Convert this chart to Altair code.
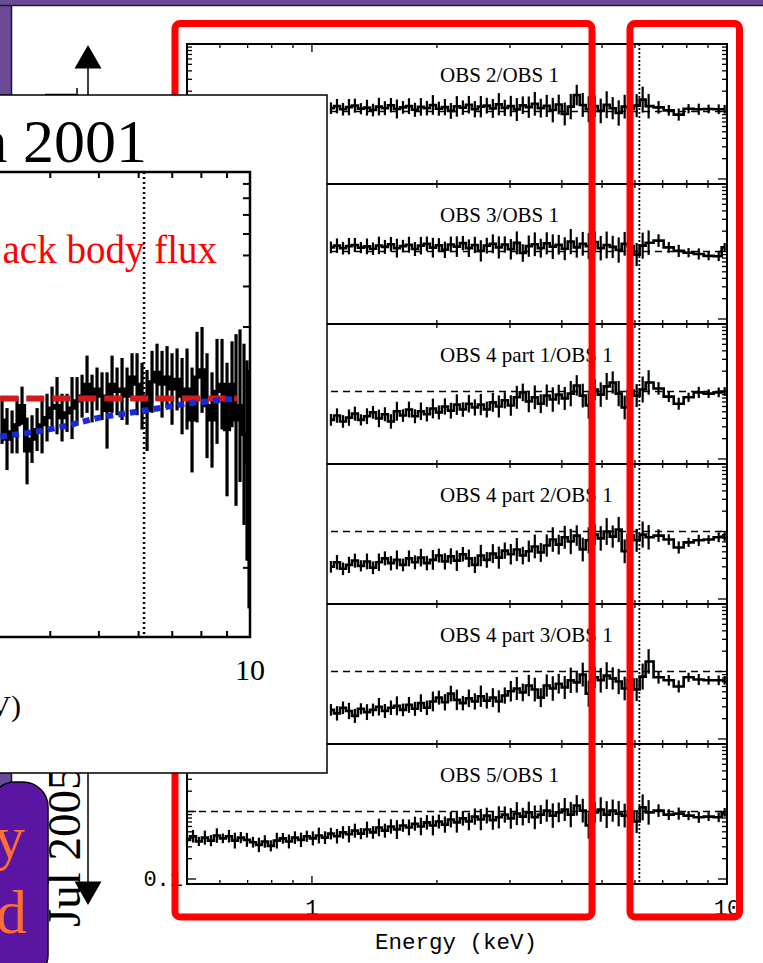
import altair as alt
import pandas as pd

# ---------------- data ----------------
ENERGY = [0.500, 0.517, 0.534, 0.552, 0.571, 0.590, 0.610, 0.631, 0.652, 0.674,
          0.697, 0.721, 0.745, 0.770, 0.796, 0.823, 0.851, 0.880, 0.910, 0.941,
          0.972, 1.005, 1.039, 1.075, 1.111, 1.149, 1.188, 1.228, 1.269, 1.312,
          1.357, 1.403, 1.450, 1.499, 1.550, 1.602, 1.657, 1.713, 1.771, 1.830,
          1.892, 1.956, 2.022, 2.091, 2.161, 2.234, 2.310, 2.388, 2.469, 2.552,
          2.638, 2.728, 2.820, 2.915, 3.014, 3.116, 3.221, 3.330, 3.443, 3.559,
          3.679, 3.804, 3.932, 4.065, 4.203, 4.345, 4.492, 4.643, 4.800, 4.963,
          5.130, 5.304, 5.483, 5.668, 5.860, 6.058, 6.263, 6.474, 6.840, 7.240,
          7.650, 8.080, 8.550, 9.030, 9.550, 9.870]

ERR = [0.20, 0.24, 0.17, 0.27, 0.21, 0.28, 0.18, 0.24, 0.31, 0.21, 0.27, 0.20,
       0.28, 0.24, 0.21, 0.31, 0.20, 0.27, 0.24, 0.28, 0.21, 0.27, 0.31, 0.24,
       0.22, 0.28, 0.24, 0.32, 0.27, 0.21, 0.31, 0.24, 0.35, 0.27, 0.28, 0.38,
       0.24, 0.31, 0.27, 0.35, 0.28, 0.40, 0.27, 0.32, 0.31, 0.42, 0.28, 0.35,
       0.32, 0.44, 0.31, 0.38, 0.46, 0.32, 0.42, 0.48, 0.35, 0.44, 0.50, 0.38,
       0.46, 0.52, 0.40, 0.48, 0.54, 0.42, 0.50, 0.56, 0.44, 0.52, 0.58, 0.46,
       0.54, 0.50, 0.60, 0.48, 0.56, 0.52,
       0.24, 0.20, 0.23, 0.17, 0.21, 0.16, 0.18, 0.16]

TITLES = ["OBS 2/OBS 1", "OBS 3/OBS 1", "OBS 4 part 1/OBS 1",
          "OBS 4 part 2/OBS 1", "OBS 4 part 3/OBS 1", "OBS 5/OBS 1"]

OBS2 = [1.12, 1.20, 1.08, 1.16, 1.22, 1.10, 1.14, 1.05, 1.18, 1.12,
        1.24, 1.09, 1.15, 1.20, 1.06, 1.17, 1.12, 1.25, 1.10, 1.16,
        1.02, 1.19, 1.14, 1.26, 1.08, 1.18, 1.22, 1.11, 1.28, 1.13,
        1.20, 1.07, 1.24, 1.16, 1.30, 1.12, 1.21, 1.05, 1.27, 0.92,
        1.18, 1.75, 1.25, 1.08, 1.20, 1.02, 1.26, 1.12, 0.95, 1.18,
        1.10, 1.22, 1.50, 1.20, 1.15, 1.04, 0.90, 1.10, 1.08, 1.09,
        1.08, 1.08]
OBS3 = [1.15, 1.22, 1.12, 1.20, 1.25, 1.14, 1.19, 1.10, 1.23, 1.17,
        1.28, 1.12, 1.20, 1.26, 1.09, 1.22, 1.30, 1.14, 1.24, 1.06,
        1.27, 1.18, 1.33, 1.12, 1.25, 1.02, 1.22, 1.30, 1.15, 1.27,
        1.08, 1.34, 0.95, 1.20, 1.28, 1.12, 1.32, 1.18, 1.26, 1.10,
        1.40, 1.15, 1.30, 1.20, 1.38, 1.12, 1.25, 1.17, 1.05, 1.30,
        1.20, 0.90, 1.22, 1.35, 1.45, 1.15, 1.02, 0.96, 0.92, 0.86,
        0.85, 1.15]
OBS4A = [0.38, 0.44, 0.36, 0.41, 0.47, 0.38, 0.43, 0.49, 0.40, 0.46,
         0.36, 0.51, 0.44, 0.54, 0.43, 0.51, 0.46, 0.56, 0.49, 0.60,
         0.52, 0.64, 0.54, 0.66, 0.58, 0.64, 0.54, 0.69, 0.60, 0.74,
         0.62, 0.82, 0.97, 0.71, 0.82, 0.66, 0.87, 0.76, 0.90, 0.79,
         0.93, 1.23, 0.87, 0.62, 1.07, 0.90, 1.19, 1.36, 0.93, 0.58,
         1.03, 0.87, 1.07, 1.36, 1.11, 0.84, 0.66, 0.82, 0.97, 0.93,
         0.97, 1.00]
OBS4B = [0.30, 0.35, 0.28, 0.32, 0.37, 0.31, 0.36, 0.29, 0.35, 0.40,
         0.34, 0.38, 0.32, 0.40, 0.35, 0.41, 0.34, 0.38, 0.44, 0.36,
         0.43, 0.37, 0.46, 0.40, 0.32, 0.44, 0.38, 0.47, 0.41, 0.52,
         0.46, 0.54, 0.44, 0.51, 0.60, 0.49, 0.62, 0.76, 0.64, 0.82,
         0.71, 0.87, 0.54, 0.74, 0.90, 0.79, 1.00, 0.84, 1.07, 0.51,
         0.87, 0.74, 0.90, 0.82, 0.87, 0.76, 0.58, 0.69, 0.74, 0.76,
         0.82, 0.84]
OBS4C = [0.27, 0.24, 0.29, 0.26, 0.22, 0.28, 0.25, 0.27, 0.30, 0.26,
         0.29, 0.31, 0.27, 0.32, 0.28, 0.34, 0.29, 0.36, 0.41, 0.35,
         0.47, 0.38, 0.34, 0.40, 0.36, 0.43, 0.37, 0.41, 0.36, 0.44,
         0.51, 0.56, 0.49, 0.62, 0.54, 0.41, 0.62, 0.56, 0.66, 0.58,
         0.74, 0.69, 0.90, 0.47, 0.82, 0.74, 0.87, 0.79, 0.71, 0.56,
         0.76, 0.54, 0.84, 1.41, 0.82, 0.74, 0.60, 0.82, 0.76, 0.74,
         0.74, 0.74]
OBS5 = [0.38, 0.43, 0.36, 0.41, 0.37, 0.44, 0.40, 0.43, 0.37, 0.41,
        0.38, 0.35, 0.32, 0.36, 0.31, 0.37, 0.40, 0.36, 0.41, 0.38,
        0.43, 0.40, 0.44, 0.41, 0.47, 0.43, 0.49, 0.46, 0.52, 0.47,
        0.54, 0.49, 0.58, 0.52, 0.60, 0.54, 0.62, 0.58, 0.66, 0.60,
        0.69, 0.62, 0.71, 0.64, 0.76, 0.69, 0.79, 0.71, 0.84, 0.76,
        0.87, 0.74, 0.82, 0.90, 0.79, 0.93, 0.84, 0.97, 0.82, 0.90,
        1.03, 0.87, 0.97, 1.07, 0.90, 1.23, 1.03, 0.62, 0.97, 1.07,
        0.90, 1.03, 0.93, 0.87, 1.00, 0.71, 1.15, 0.97, 1.03, 0.90,
        0.93, 0.87, 0.82, 0.84, 0.82, 0.97]
PANELS = [OBS2, OBS3, OBS4A, OBS4B, OBS4C, OBS5]

INSET_E = [3.206, 3.280, 3.357, 3.434, 3.514, 3.596, 3.679, 3.765, 3.852, 3.941,
           4.033, 4.126, 4.222, 4.320, 4.420, 4.523, 4.628, 4.735, 4.845, 4.957,
           5.072, 5.190, 5.311, 5.434, 5.560, 5.689, 5.821, 5.956, 6.094, 6.236,
           6.380, 6.528, 6.680, 6.835, 6.993, 7.156, 7.322, 7.491, 7.665, 7.843,
           8.025, 8.211, 8.401, 8.596, 8.796, 9.000, 9.209, 9.379, 9.552, 9.729,
           9.863, 9.954]
INSET_F = [0.91, 0.83, 0.86, 0.89, 0.97, 0.78, 0.83, 0.87, 0.89, 0.92,
           0.96, 0.97, 0.92, 0.94, 0.96, 0.99, 1.01, 1.06, 1.00, 1.04,
           1.01, 0.95, 1.06, 1.03, 1.04, 1.01, 1.09, 1.06, 1.01, 0.95,
           1.07, 1.11, 1.06, 1.09, 1.04, 1.08, 1.01, 1.04, 0.91, 1.09,
           1.12, 0.97, 0.91, 1.03, 1.06, 0.87, 1.06, 0.91, 0.97, 0.85,
           0.74, 0.62]
INSET_ERR = [0.10, 0.13, 0.09, 0.12, 0.08, 0.14, 0.10, 0.09, 0.12, 0.10,
             0.09, 0.12, 0.10, 0.08, 0.13, 0.10, 0.09, 0.12, 0.10, 0.09,
             0.10, 0.16, 0.12, 0.10, 0.13, 0.12, 0.10, 0.13, 0.14, 0.17,
             0.13, 0.12, 0.14, 0.13, 0.15, 0.13, 0.16, 0.17, 0.22, 0.19,
             0.18, 0.22, 0.20, 0.22, 0.19, 0.28, 0.18, 0.36, 0.32, 0.38,
             0.42, 0.50]
MODEL_E = [3.18, 4.19, 5.02, 6.18, 7.59, 9.42]
MODEL_F = [0.84, 0.88, 0.92, 0.95, 0.98, 1.00]
BB_E = [3.18, 9.42]
BB_F = [1.0, 1.0]
FE_LINE = 6.15

XT_MAJOR = [1, 10]
XT_MINOR = [0.6, 0.7, 0.8, 0.9, 2, 3, 4, 5, 6, 7, 8, 9]
YT_MAJOR = [0.1, 1, 10]
YT_MINOR = [0.2, 0.3, 0.4, 0.5, 0.6, 0.7, 0.8, 0.9, 2, 3, 4, 5, 6, 7, 8, 9]
INSET_XT = [4, 5, 6, 7, 8, 9]
INSET_YT = [1.90, 1.84, 1.77, 1.69, 1.60, 1.47, 1.30, 1.03, 0.73, 0.29]

# ---------------- layout ----------------
W, H = 763, 963
PL, PR, PT, PH = 187, 727, 44, 140
NP = 6
PB = PT + NP * PH
SERIF = "Liberation Serif"
MONO = "Liberation Mono"
PURPLE = "#6b4a98"
BOXPURPLE = "#5a16a2"
ORANGE = "#ff6d33"
RED = "#ff0000"

ONE = pd.DataFrame({"k": [0]})


def rect(x, x2, y, y2, **kw):
    return alt.Chart(ONE).mark_rect(**kw).encode(
        x=alt.value(x), x2=alt.value(x2), y=alt.value(y), y2=alt.value(y2))


def seg(x, x2, y, y2, **kw):
    return alt.Chart(ONE).mark_rule(**kw).encode(
        x=alt.value(x), x2=alt.value(x2), y=alt.value(y), y2=alt.value(y2))


def label(s, x, y, **kw):
    return alt.Chart(ONE).mark_text(**kw).encode(
        x=alt.value(x), y=alt.value(y), text=alt.value(s))


# ---------------- background decorations ----------------
bg = [
    rect(0, W, 0, 5, fill=PURPLE),
    rect(0, 11, 0, H, fill=PURPLE),
    seg(0, W, 5.5, 5.5, color="#1c1830", strokeWidth=1.5),
    seg(11.5, 11.5, 5.5, H, color="#1c1830", strokeWidth=1.5),
    seg(45, 77, 94.5, 94.5, color="black", strokeWidth=1.5),
    seg(77, 77, 88, 95, color="black", strokeWidth=1.5),
    seg(88, 88, 66, 884, color="black", strokeWidth=1.5),
    alt.Chart(ONE).mark_point(shape="triangle-up", filled=True, size=729,
                              color="black", opacity=1).encode(
        x=alt.value(88), y=alt.value(56.7)),
    alt.Chart(ONE).mark_point(shape="triangle-down", filled=True, size=729,
                              color="black", opacity=1).encode(
        x=alt.value(88), y=alt.value(893.3)),
    label("Jul 2005", 80, 927, angle=270, align="left", baseline="alphabetic",
          font=SERIF, fontSize=47, color="black"),
]

# ---------------- right: six ratio panels ----------------
XS = alt.Scale(type="log", domain=[0.5, 10], range=[PL, PR], nice=False)


def ex(field="E:Q"):
    return alt.X(field, scale=XS, axis=None)


def panel(i, vals):
    n = len(vals)
    E = ENERGY[-n:]
    e = ERR[-n:]
    df = pd.DataFrame({
        "E": E, "r": vals,
        "lo": [v / (1 + x) for v, x in zip(vals, e)],
        "hi": [v * (1 + x) for v, x in zip(vals, e)],
    })
    top = PT + i * PH
    bot = top + PH
    ys = alt.Scale(type="log", domain=[0.0843, 10], range=[bot, top], nice=False)

    def Y(f):
        return alt.Y(f, scale=ys, axis=None)

    base = alt.Chart(df)
    layers = [
        alt.Chart(pd.DataFrame({"E": [0.5], "E2": [10], "r": [1]})).mark_rule(
            color="black", strokeWidth=1.5, strokeDash=[7, 5]).encode(
            x=ex(), x2="E2:Q", y=Y("r:Q")),
        base.mark_rule(color="black", strokeWidth=2.2).encode(
            x=ex(), y=Y("lo:Q"), y2="hi:Q"),
        base.mark_line(color="black", strokeWidth=2.6, interpolate="step").encode(
            x=ex(), y=Y("r:Q")),
    ]
    for tv, ln in ((YT_MAJOR, 9), (YT_MINOR, 5)):
        td = alt.Chart(pd.DataFrame({"r": tv}))
        layers.append(td.mark_rule(color="black", strokeWidth=1.3).encode(
            y=Y("r:Q"), x=alt.value(PL), x2=alt.value(PL + ln)))
        layers.append(td.mark_rule(color="black", strokeWidth=1.3).encode(
            y=Y("r:Q"), x=alt.value(PR), x2=alt.value(PR - ln)))
    layers.append(label(TITLES[i], 440, top + 38, align="left",
                        baseline="alphabetic", font=SERIF, fontSize=21,
                        color="black"))
    if i == NP - 1:
        layers.append(alt.Chart(pd.DataFrame({"r": [0.1], "t": ["0.1"]})).mark_text(
            align="right", baseline="middle", font=MONO, fontSize=22,
            color="black").encode(y=Y("r:Q"), x=alt.value(183), text="t:N"))
    return alt.layer(*layers)


right_layers = [panel(i, v) for i, v in enumerate(PANELS)]

for b in range(NP + 1):
    yb = PT + b * PH
    for tv, ln in ((XT_MAJOR, 8), (XT_MINOR, 4)):
        up = 0 if b == 0 else ln
        dn = 0 if b == NP else ln
        right_layers.append(
            alt.Chart(pd.DataFrame({"E": tv})).mark_rule(
                color="black", strokeWidth=1.3).encode(
                x=ex(), y=alt.value(yb - up), y2=alt.value(yb + dn)))

right_layers.append(rect(PL, PR, PT, PB, fill="white", fillOpacity=0,
                         stroke="black", strokeWidth=2))
for b in range(1, NP):
    yb = PT + b * PH
    right_layers.append(seg(PL, PR, yb, yb, color="black", strokeWidth=2))

right_layers.append(
    alt.Chart(pd.DataFrame({"E": [FE_LINE]})).mark_rule(
        color="black", strokeWidth=1.8, strokeDash=[2, 2]).encode(
        x=ex(), y=alt.value(PT), y2=alt.value(PB)))
right_layers.append(
    alt.Chart(pd.DataFrame({"E": [1, 10], "t": ["1", "10"]})).mark_text(
        font=MONO, fontSize=22, color="black", baseline="middle").encode(
        x=ex(), y=alt.value(908), text="t:N"))
right_layers.append(label("Energy (keV)", 456, 942, font=MONO, fontSize=22.5,
                          color="black", baseline="middle"))

right = alt.layer(*right_layers).resolve_scale(y="independent")

# ---------------- red highlight frames ----------------
red = [
    rect(175, 592, 23.5, 917, fill="white", fillOpacity=0, stroke=RED,
         strokeWidth=7, cornerRadius=5),
    rect(630, 739.5, 23.5, 917, fill="white", fillOpacity=0, stroke=RED,
         strokeWidth=7, cornerRadius=5),
]

# ---------------- inset ----------------
IXS = alt.Scale(type="log", domain=[0.5, 10], range=[-403, 250], nice=False)
IYS = alt.Scale(domain=[0, 1.95], range=[637, 172], nice=False, zero=False)


def ix(f="E:Q"):
    return alt.X(f, scale=IXS, axis=None)


def iy(f="F:Q"):
    return alt.Y(f, scale=IYS, axis=None)


idf = pd.DataFrame({
    "E": INSET_E, "F": INSET_F,
    "lo": [f - e for f, e in zip(INSET_F, INSET_ERR)],
    "hi": [f + e for f, e in zip(INSET_F, INSET_ERR)],
})
ibase = alt.Chart(idf)
inset_layers = [
    rect(-5, 327, 95, 773, fill="white", stroke="black", strokeWidth=1.5),
    alt.Chart(pd.DataFrame({"E": [FE_LINE]})).mark_rule(
        color="black", strokeWidth=2.5, strokeDash=[2, 3]).encode(
        x=ix(), y=alt.value(172), y2=alt.value(637)),
    ibase.mark_rule(color="black", strokeWidth=3.2).encode(
        x=ix(), y=iy("lo:Q"), y2="hi:Q"),
    ibase.mark_line(color="black", strokeWidth=3.2, interpolate="step").encode(
        x=ix(), y=iy()),
    alt.Chart(pd.DataFrame({"E": BB_E, "F": BB_F})).mark_line(
        color="#d41a1a", strokeWidth=6, strokeDash=[18, 8]).encode(
        x=ix(), y=iy()),
    alt.Chart(pd.DataFrame({"E": MODEL_E, "F": MODEL_F})).mark_line(
        color="#1a2bd6", strokeWidth=6, strokeDash=[7, 5],
        interpolate="monotone").encode(x=ix(), y=iy()),
    rect(-5, 250, 172, 637, fill="white", fillOpacity=0, stroke="black",
         strokeWidth=2.5),
]
itx = alt.Chart(pd.DataFrame({"E": INSET_XT}))
inset_layers.append(itx.mark_rule(color="black", strokeWidth=2).encode(
    x=ix(), y=alt.value(172), y2=alt.value(178)))
inset_layers.append(itx.mark_rule(color="black", strokeWidth=2).encode(
    x=ix(), y=alt.value(637), y2=alt.value(631)))
inset_layers.append(
    alt.Chart(pd.DataFrame({"F": INSET_YT})).mark_rule(
        color="black", strokeWidth=2).encode(
        y=iy(), x=alt.value(250), x2=alt.value(243)))
inset_layers.append(
    alt.Chart(pd.DataFrame({"E": [10], "t": ["10"]})).mark_text(
        font=SERIF, fontSize=30, color="black", baseline="middle").encode(
        x=ix(), y=alt.value(671), text="t:N"))
inset_layers.append(label("(keV)", 21, 716, align="right", baseline="alphabetic",
                          font=SERIF, fontSize=30, color="black"))
inset_layers.append(label("n 2001", 147, 162, align="right",
                          baseline="alphabetic", font=SERIF, fontSize=62,
                          color="black"))
inset_layers.append(label("ack body flux", 217, 263, align="right",
                          baseline="alphabetic", font=SERIF, fontSize=39,
                          color=RED))
inset = alt.layer(*inset_layers)

# ---------------- bottom-left purple box ----------------
box = [
    rect(-10, 48, 782, 980, fill=BOXPURPLE, stroke="black", strokeWidth=1.5,
         cornerRadius=25),
    label("y", 25, 858, align="right", baseline="alphabetic", font=SERIF,
          fontSize=62, color=ORANGE),
    label("d", 27, 933, align="right", baseline="alphabetic", font=SERIF,
          fontSize=62, color=ORANGE),
]

chart = alt.layer(*bg, right, *red, inset, *box).resolve_scale(
    x="independent", y="independent"
).properties(
    width=W, height=H, padding=0,
    autosize=alt.AutoSizeParams(type="none"),
    background="white",
).configure_view(strokeWidth=0)

chart.save("out.html", embed_options={"renderer": "svg", "actions": False})
